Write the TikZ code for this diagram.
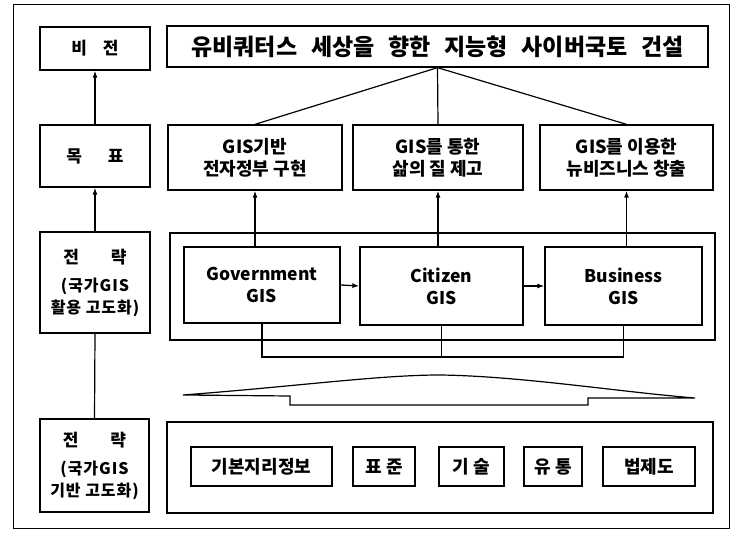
\documentclass[tikz,border=0pt]{standalone}
\usepackage{fontspec}
\setmainfont{Noto Sans CJK KR}
\usetikzlibrary{arrows.meta}
\newcommand{\smallkr}{\fontsize{16}{20}\selectfont\addfontfeature{LetterSpace=6}}
\begin{document}
\begin{tikzpicture}[x=1pt,y=-1pt,
  box/.style={draw, line width=1.3pt, inner sep=0pt, align=center},
  arr/.style={line width=1.3pt, -{Latex[length=7pt,width=5pt]}},
  ln/.style={line width=1.2pt},
  fbig/.style={font=\fontsize{23}{26}\selectfont\bfseries},
  fmid/.style={font=\fontsize{18}{22}\selectfont\bfseries},
  fgis/.style={font=\fontsize{17.5}{22}\selectfont\bfseries},
  fleft/.style={font=\fontsize{17}{22}\selectfont\bfseries}]
\useasboundingbox (0,0) rectangle (733,537);
\node[draw, line width=1pt, minimum width=716, minimum height=523, inner sep=0pt] (frame) at (371,266.5) {};
% left column
\node[box, fleft, minimum width=110, minimum height=43] (vis) at (95,48.5) {비\hspace{16pt}전};
\node[box, fleft, minimum width=110, minimum height=62] (goal) at (95,156) {목\hspace{26pt}표};
\node[box, fleft, minimum width=110, minimum height=101] (str1) at (95,282.5)
  {전\hspace{32pt}략\\[6pt]\smallkr (국가GIS\\\smallkr 활용 고도화)};
\node[box, fleft, minimum width=109, minimum height=93] (str2) at (94.5,465.5)
  {전\hspace{32pt}략\\[6pt]\smallkr (국가GIS\\\smallkr 기반 고도화)};
% title
\node[box, fbig, minimum width=541, minimum height=41] (title) at (437.5,46.5)
  {유비쿼터스\hspace{0.6em}세상을\hspace{0.6em}향한\hspace{0.6em}지능형\hspace{0.6em}사이버국토\hspace{0.6em}건설};
% goals
\node[box, fmid, minimum width=174, minimum height=65] (g1) at (255,157.5) {GIS기반\\전자정부 구현};
\node[box, fmid, minimum width=170, minimum height=65] (g2) at (438,157.5) {GIS를 통한\\삶의 질 제고};
\node[box, fmid, minimum width=173, minimum height=65] (g3) at (626.5,157.5) {GIS를 이용한\\뉴비즈니스 창출};
% strategy container
\node[box, minimum width=545, minimum height=107] (cont1) at (442.5,286.5) {};
\node[box, fgis, minimum width=156, minimum height=76] (gov) at (262,285) {Government\\GIS};
\node[box, fgis, minimum width=163, minimum height=78] (cit) at (441.5,286) {Citizen\\GIS};
\node[box, fgis, minimum width=157, minimum height=78] (bus) at (623.5,286) {Business\\GIS};
% base container
\node[box, minimum width=546, minimum height=91] (cont2) at (440,467.5) {};
\node[box, fmid, minimum width=141, minimum height=39] (b1) at (261.5,466.5) {기본지리정보};
\node[box, fmid, minimum width=62, minimum height=39] (b2) at (384,466.5) {표 준};
\node[box, fmid, minimum width=65, minimum height=39] (b3) at (471.5,466.5) {기 술};
\node[box, fmid, minimum width=58, minimum height=39] (b4) at (553,466.5) {유 통};
\node[box, fmid, minimum width=92, minimum height=39] (b5) at (649,466.5) {법제도};
% left arrows
\draw[arr] (goal.north) -- (vis.south);
\draw[arr] (str1.north) -- (goal.south);
\draw[ln] (str1.south) -- (str2.north);
% fan from title
\draw[ln] (title.south) -- (g1.north);
\draw[ln] (title.south) -- (g2.north);
\draw[ln] (title.south) -- (g3.north);
% strategy -> goal arrows
\draw[arr] (gov.north -| g1.south) -- (g1.south);
\draw[arr] (cit.north -| g2.south) -- (g2.south);
\draw[arr] (bus.north -| g3.south) -- (g3.south);
% horizontal arrows
\draw[arr] (gov.east) -- (cit.west);
\draw[arr] (cit.east) -- (bus.west);
% bracket
\coordinate (br) at (0,357);
\draw[ln] (gov.south) -- (gov.south |- br) -- (bus.south |- br) -- (bus.south);
\draw[ln] (cit.south) -- (cit.south |- br);
% wedge
\draw[ln] (183,395) .. controls (300,386) and (380,375) .. (440,375)
  .. controls (520,376) and (620,392) .. (695,398)
  -- (588,398) -- (588,405) -- (290,405) -- (290,396) -- cycle;
\end{tikzpicture}
\end{document}
